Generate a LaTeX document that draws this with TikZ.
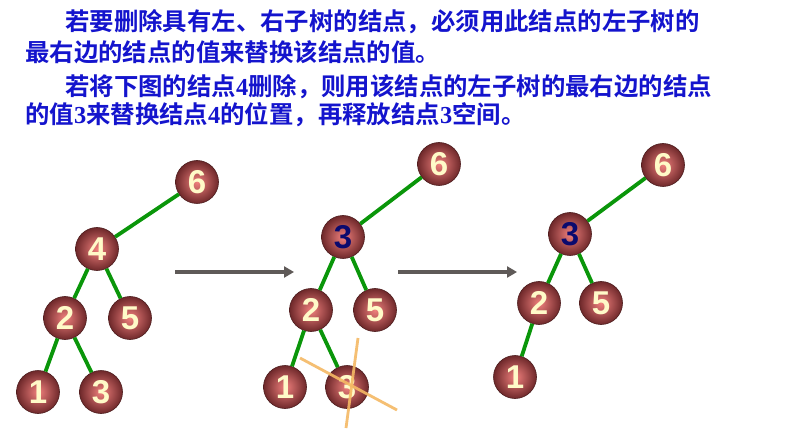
\documentclass[tikz,border=0pt]{standalone}
\usepackage{fontspec}
\setmainfont{Liberation Serif}
\newfontfamily\cjk{Noto Sans CJK SC}[BoldFont={Noto Sans CJK SC Bold}]
\newfontfamily\numfont{Liberation Sans}
\definecolor{txtblue}{RGB}{20,20,205}
\definecolor{ballout}{RGB}{110,40,42}
\definecolor{ballin}{RGB}{240,128,125}
\definecolor{numcol}{RGB}{255,250,200}
\definecolor{navy}{RGB}{10,10,110}
\definecolor{edgegreen}{RGB}{10,150,10}
\definecolor{arrowgray}{RGB}{95,90,88}
\definecolor{crossorange}{RGB}{245,185,100}
\usetikzlibrary{arrows.meta}
\tikzset{
  ball/.style={circle, minimum size=43pt, inner sep=0pt, draw=ballout!70!black, line width=0.6pt,
    inner color=ballin, outer color=ballout, text=numcol,
    font=\numfont\bfseries\fontsize{33}{33}\selectfont},
  newval/.style={text=navy},
  edge/.style={edgegreen, line width=3.8pt},
  flow/.style={arrowgray, line width=3.2pt, -{Triangle[length=10pt,width=11pt]}},
  cross/.style={crossorange, line width=2.8pt, opacity=0.9},
  para/.style={anchor=west, inner sep=0pt, text=txtblue, font=\cjk\bfseries\fontsize{24.4}{24.4}\selectfont}
}
\begin{document}
\begin{tikzpicture}[x=1pt,y=-1pt]
\useasboundingbox[fill=white] (0,0) rectangle (786,435);
% text
\node[para] (t1) at (65,22) {若要删除具有左、右子树的结点，必须用此结点的左子树的};
\node[para] (t2) at (25,52) {最右边的结点的值来替换该结点的值。};
\node[para] (t3) at (65,87) {若将下图的结点\textrm{4}删除，则用该结点的左子树的最右边的结点};
\node[para] (t4) at (25,115) {的值\textrm{3}来替换结点\textrm{4}的位置，再释放结点\textrm{3}空间。};
% left tree
\node[ball] (a6) at (197,182) {6};
\node[ball] (a4) at (97,249) {4};
\node[ball] (a2) at (65,318) {2};
\node[ball] (a5) at (130,318) {5};
\node[ball] (a1) at (38,392) {1};
\node[ball] (a3) at (101,392) {3};
\draw[edge] (a6) -- (a4);
\draw[edge] (a4) -- (a2);
\draw[edge] (a4) -- (a5);
\draw[edge] (a2) -- (a1);
\draw[edge] (a2) -- (a3);
% middle tree
\node[ball] (b6) at (439,164) {6};
\node[ball,newval] (b3) at (343,237) {3};
\node[ball] (b2) at (311,310) {2};
\node[ball] (b5) at (375,310) {5};
\node[ball] (b1) at (285,387) {1};
\node[ball] (bx) at (347,387) {3};
\draw[edge] (b6) -- (b3);
\draw[edge] (b3) -- (b2);
\draw[edge] (b3) -- (b5);
\draw[edge] (b2) -- (b1);
\draw[edge] (b2) -- (bx);
\coordinate (c1) at (300,358);
\coordinate (c2) at (397,410);
\coordinate (c3) at (358,338);
\coordinate (c4) at (346,428);
\draw[cross] (c1) -- (c2);
\draw[cross] (c3) -- (c4);
% right tree
\node[ball] (r6) at (663,165) {6};
\node[ball,newval] (r3) at (570,234) {3};
\node[ball] (r2) at (539,303) {2};
\node[ball] (r5) at (601,303) {5};
\node[ball] (r1) at (515,377) {1};
\draw[edge] (r6) -- (r3);
\draw[edge] (r3) -- (r2);
\draw[edge] (r3) -- (r5);
\draw[edge] (r2) -- (r1);
% arrows
\coordinate (s1) at (175,272);
\coordinate (e1) at (294,272);
\coordinate (s2) at (398,272);
\coordinate (e2) at (517,272);
\draw[flow] (s1) -- (e1);
\draw[flow] (s2) -- (e2);
\end{tikzpicture}
\end{document}
